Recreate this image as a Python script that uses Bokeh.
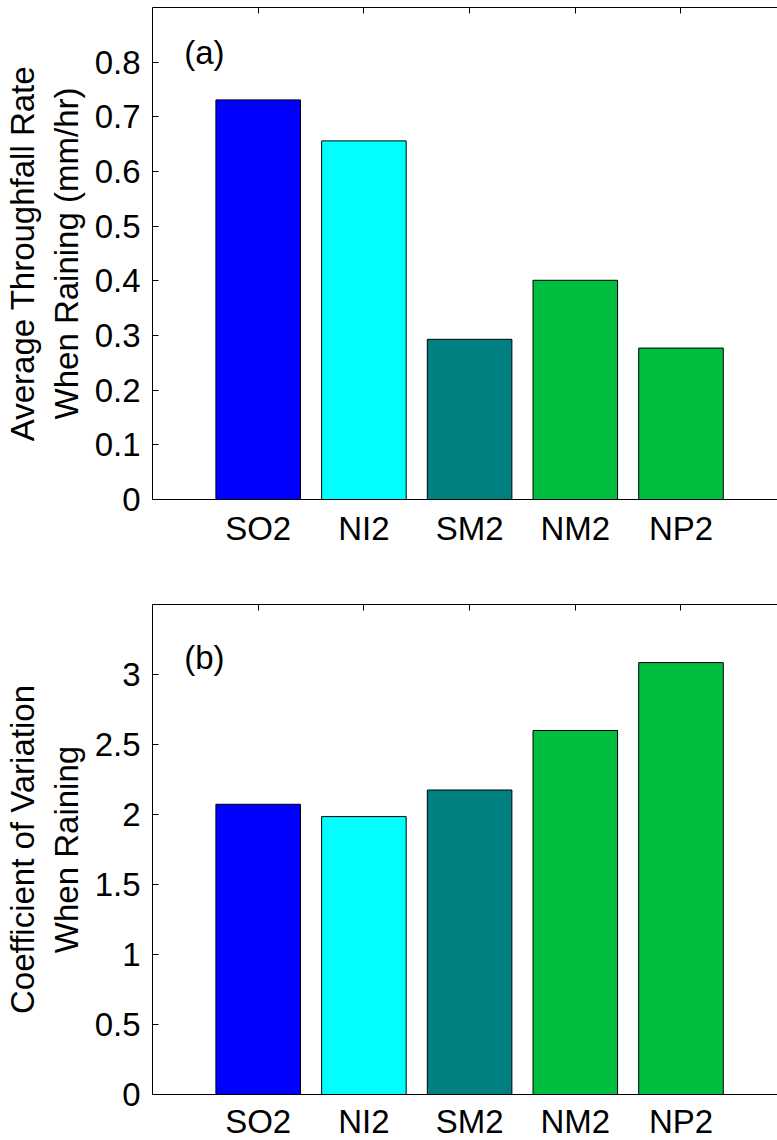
from bokeh.plotting import figure
from bokeh.models import (Range1d, FixedTicker, LinearAxis, NumeralTickFormatter,
                          Label, ColumnDataSource)
from bokeh.layouts import column
from bokeh.embed import file_html
from bokeh.resources import INLINE

categories = ["SO2", "NI2", "SM2", "NM2", "NP2"]
bar_colors = ["#0000FF", "#00FFFF", "#008080", "#00BF40", "#00BF40"]
throughfall_rate = [0.731, 0.656, 0.293, 0.401, 0.277]
coef_variation = [2.073, 1.985, 2.175, 2.600, 3.085]
rate_ticks = [0, 0.1, 0.2, 0.3, 0.4, 0.5, 0.6, 0.7, 0.8]
cv_ticks = [0, 0.5, 1, 1.5, 2, 2.5, 3]

FONT = "Liberation Sans"
FS = "33px"


def make_panel(values, ymax, yticks, ylabel, tag, tag_y,
               mb_top, mb_bottom, fh, xstand):
    xs = list(range(1, len(categories) + 1))
    p = figure(frame_width=625, frame_height=fh,
               x_range=Range1d(0, 5.913), y_range=Range1d(0, ymax),
               output_backend="svg", toolbar_location=None,
               min_border_left=152, min_border_right=0,
               min_border_top=mb_top, min_border_bottom=mb_bottom)
    p.title.visible = False
    p.grid.visible = False
    p.outline_line_color = None
    p.background_fill_color = "white"
    p.border_fill_color = "white"

    src = ColumnDataSource(dict(x=xs, top=values, color=bar_colors))
    p.vbar(x="x", top="top", bottom=0, width=0.8, fill_color="color",
           line_color="black", line_width=1, source=src)

    xa = p.xaxis[0]
    xa.ticker = FixedTicker(ticks=xs)
    xa.major_label_overrides = {x: c for x, c in zip(xs, categories)}
    xa.major_tick_in = 0
    xa.major_tick_out = 0
    xa.minor_tick_in = 0
    xa.minor_tick_out = 0
    xa.axis_line_color = "black"
    xa.major_label_text_font = FONT
    xa.major_label_text_font_size = FS
    xa.major_label_text_color = "black"
    xa.major_label_standoff = xstand

    ya = p.yaxis[0]
    ya.ticker = FixedTicker(ticks=yticks)
    ya.formatter = NumeralTickFormatter(format="0.[0]")
    ya.major_tick_in = 6
    ya.major_tick_out = 0
    ya.minor_tick_in = 0
    ya.minor_tick_out = 0
    ya.axis_line_color = "black"
    ya.major_tick_line_color = "black"
    ya.major_label_text_font = FONT
    ya.major_label_text_font_size = FS
    ya.major_label_text_color = "black"
    ya.major_label_standoff = 12
    ya.axis_label = ylabel
    ya.axis_label_text_font = FONT
    ya.axis_label_text_font_size = FS
    ya.axis_label_text_font_style = "normal"
    ya.axis_label_text_color = "black"
    ya.axis_label_text_line_height = 1.18
    ya.axis_label_standoff = 7

    top_axis = LinearAxis(ticker=FixedTicker(ticks=xs))
    top_axis.major_tick_in = 6
    top_axis.major_tick_out = 0
    top_axis.minor_tick_in = 0
    top_axis.minor_tick_out = 0
    top_axis.axis_line_color = "black"
    top_axis.major_tick_line_color = "black"
    top_axis.major_label_text_font_size = "1px"
    top_axis.major_label_text_alpha = 0
    top_axis.major_label_standoff = 0
    p.add_layout(top_axis, "above")

    p.add_layout(Label(x=0.3, y=tag_y, text=tag, text_font=FONT,
                       text_font_size=FS, text_color="black",
                       text_align="left", text_baseline="middle"))
    return p


p1 = make_panel(throughfall_rate, 0.9, rate_ticks,
                "Average Throughfall Rate\nWhen Raining (mm/hr)",
                "(a)", 0.818, 7, 50, 492, 10)
p2 = make_panel(coef_variation, 3.5, cv_ticks,
                "Coefficient of Variation\nWhen Raining",
                "(b)", 3.12, 55, 44, 490, 8)

layout = column(p1, p2)
open("out.html", "w").write(file_html(layout, INLINE))
